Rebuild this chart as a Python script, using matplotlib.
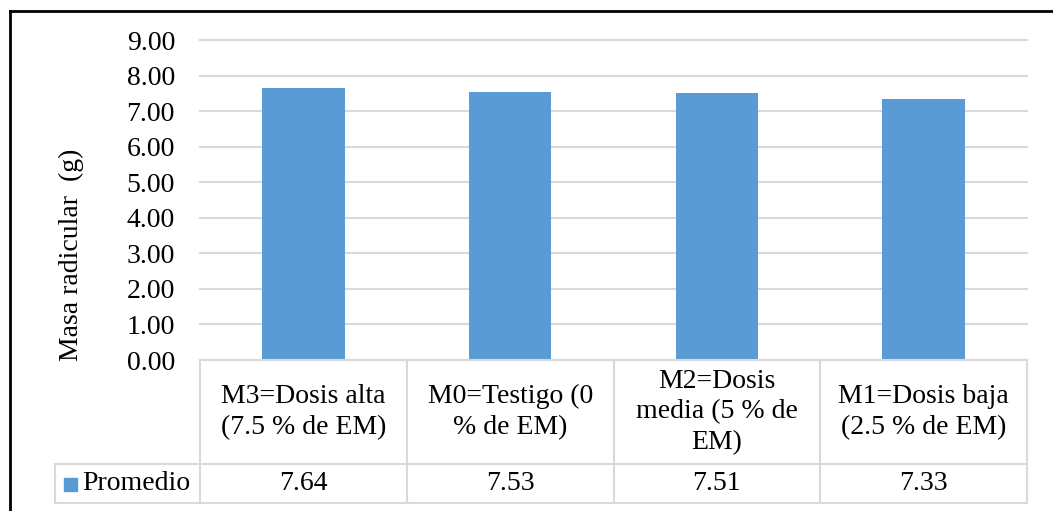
import matplotlib.pyplot as plt
from matplotlib.transforms import blended_transform_factory
from matplotlib.patches import Rectangle
from matplotlib.lines import Line2D

plt.rcParams['font.family'] = ['Liberation Serif', 'DejaVu Serif']

categorias = ["M3=Dosis alta\n(7.5 % de EM)", "M0=Testigo (0\n% de EM)",
              "M2=Dosis\nmedia (5 % de\nEM)", "M1=Dosis baja\n(2.5 % de EM)"]
promedio = [7.64, 7.53, 7.51, 7.33]
serie = "Promedio"
yticks = [0, 1, 2, 3, 4, 5, 6, 7, 8, 9]

W, H = 1053, 511
azul = "#5b9bd5"
gris = "#d9d9d9"
fs = 20

fig = plt.figure(figsize=(W / 100, H / 100), dpi=100)
ax = fig.add_axes([200 / W, 1 - 360 / H, 827 / W, 320 / H])

x = list(range(len(categorias)))
ax.bar(x, promedio, width=0.4, color=azul, zorder=3)
ax.set_xlim(-0.5, len(categorias) - 0.5)
ax.set_ylim(0, 9)
ax.set_yticks(yticks)
ax.set_yticklabels([f"{v:.2f}" for v in yticks], fontsize=fs)
ax.set_xticks([])
ax.grid(axis='y', color=gris, linewidth=1.5, zorder=0)
for g in ax.get_ygridlines():
    g.set_clip_on(False)
ax.tick_params(axis='y', length=0, pad=18)
for s in ax.spines.values():
    s.set_visible(False)
ax.set_ylabel("Masa radicular  (g)", fontsize=fs)
ax.yaxis.set_label_coords(-116 / 827, 0.33)

# tabla de datos
tr = blended_transform_factory(ax.transData, fig.transFigure)
y0 = 1 - 360 / H
y1 = 1 - 464 / H
y2 = 1 - 503 / H
xl = -0.5 - 145 / 206.75
lw = 1.5
for i in range(len(categorias) + 1):
    xb = i - 0.5
    fig.add_artist(Line2D([xb, xb], [y0, y2], transform=tr, color=gris, lw=lw))
fig.add_artist(Line2D([-0.5, len(categorias) - 0.5], [y0, y0], transform=tr, color=gris, lw=lw))
fig.add_artist(Line2D([xl, len(categorias) - 0.5], [y1, y1], transform=tr, color=gris, lw=lw))
fig.add_artist(Line2D([xl, len(categorias) - 0.5], [y2, y2], transform=tr, color=gris, lw=lw))
fig.add_artist(Line2D([xl, xl], [y1, y2], transform=tr, color=gris, lw=lw))

for i, (c, v) in enumerate(zip(categorias, promedio)):
    fig.text(i, (y0 + y1) / 2, c, transform=tr, ha='center', va='center',
             fontsize=fs, linespacing=1.3)
    fig.text(i, (y1 + y2) / 2, f"{v:.2f}", transform=tr, ha='center',
             va='center', fontsize=fs)

# leyenda en la tabla
fig.add_artist(Rectangle((64 / W, 1 - 491 / H), 13 / W, 13 / H,
                         transform=fig.transFigure, color=azul))
fig.text(82 / W, (y1 + y2) / 2, serie, ha='left', va='center', fontsize=fs)

# marco del grafico
fig.add_artist(Line2D([10 / W, 1], [1 - 11 / H, 1 - 11 / H],
                      transform=fig.transFigure, color='black', lw=2))
fig.add_artist(Line2D([10 / W, 10 / W], [0, 1 - 11 / H],
                      transform=fig.transFigure, color='black', lw=2))

fig.savefig("out.png", dpi=100)
